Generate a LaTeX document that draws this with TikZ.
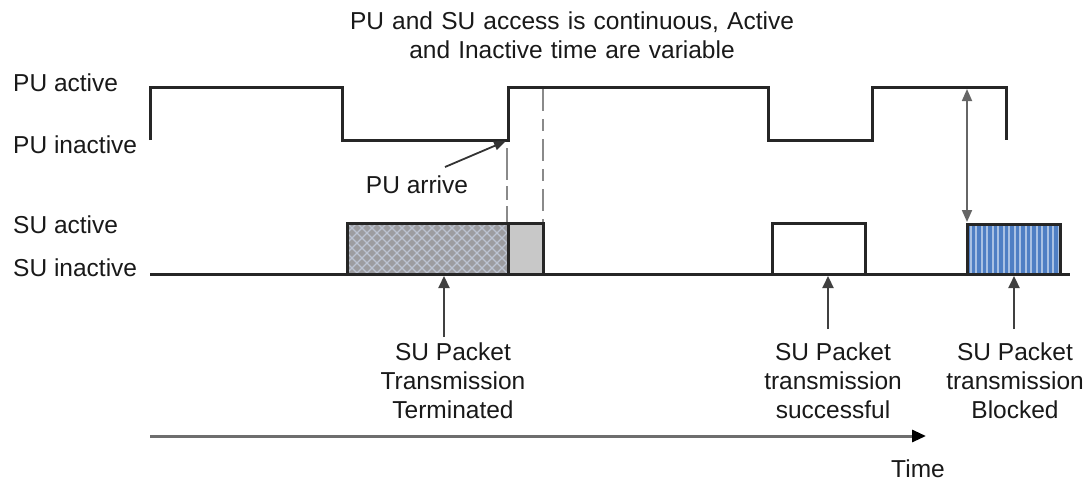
\documentclass[tikz,border=0pt]{standalone}
\usepackage{fontspec}
\setmainfont{Liberation Sans}
\usetikzlibrary{arrows.meta}
\definecolor{wavec}{HTML}{262626}
\definecolor{hatchbg}{HTML}{9C9CA0}
\definecolor{hatchln}{HTML}{BCC3D2}
\definecolor{boxgray}{HTML}{C8C8C8}
\definecolor{blueA}{HTML}{4F7FC4}
\definecolor{blueB}{HTML}{A9C1E3}
\definecolor{dashc}{HTML}{8A8A8A}
\definecolor{timec}{HTML}{6E6E6E}
\begin{document}
\begin{tikzpicture}[x=1pt,y=-1pt,
  wave/.style={draw=wavec,line width=3pt,line join=miter},
  lbl/.style={font=\fontsize{24.5}{29}\selectfont,inner sep=0pt,align=center,text=black!90},
  ptr/.style={draw=black!75,line width=2.2pt,-{Triangle[length=12pt,width=11pt]}},
  dashA/.style={draw=dashc,line width=2.2pt,dash pattern=on 32pt off 6pt on 14pt off 6pt},
  dashB/.style={draw=dashc,line width=2.2pt,dash pattern=on 22pt off 8pt on 12pt off 8pt}]
\useasboundingbox (0,0) rectangle (1091,483);

% title
\node[lbl,text width=600pt] (title) at (572,35) {PU and SU access is continuous, Active\\and Inactive time are variable};

% left labels
\node[lbl,anchor=west] (pua) at (13,83) {PU active};
\node[lbl,anchor=west] (pui) at (13,145) {PU inactive};
\node[lbl,anchor=west] (sua) at (13,225) {SU active};
\node[lbl,anchor=west] (sui) at (13,268) {SU inactive};

% hatched box
\begin{scope}
  \clip (347,223) rectangle (508,274);
  \fill[hatchbg] (347,223) rectangle (508,274);
  \foreach \i in {-60,-50,...,170} {
    \draw[hatchln,line width=1.3pt] (347+\i,223) -- ++(60,60);
    \draw[hatchln,line width=1.3pt] (347+\i,283) -- ++(60,-60);
  }
\end{scope}
\fill[boxgray] (508,223) rectangle (543,274);

% blue striped box
\fill[blueA] (967,224) rectangle (1060,274);
\foreach \i in {0,...,16} {
  \fill[blueB] (969.5+\i*5.5,224) rectangle ++(2.2,50);
}

% dashed markers
\coordinate (d1t) at (507,148);
\coordinate (d1b) at (507,223);
\coordinate (d2t) at (543,89);
\coordinate (d2b) at (543,223);
\draw[dashA] (d1t) -- (d1b);
\draw[dashB] (d2t) -- (d2b);

% PU waveform
\draw[wave] (150,140) -- (150,87) -- (342,87) -- (342,140) -- (508,140) -- (508,87)
  -- (768,87) -- (768,140) -- (872,140) -- (872,87) -- (1006,87) -- (1006,140);

% SU baseline and boxes
\draw[wave] (150,274) -- (1070,274);
\draw[wave] (347,223) rectangle (508,274);
\draw[wave] (508,223) rectangle (543,274);
\draw[wave] (772,274) -- (772,223) -- (865,223) -- (865,274);
\draw[wave] (967,224) rectangle (1060,274);

% PU arrive
\node[lbl] (arr) at (417,185) {PU arrive};
\coordinate (arrs) at (445,167);
\coordinate (arre) at (506,141);
\draw[draw=black!80,line width=1.8pt,-{Triangle[length=12pt,width=9pt]}] (arrs) -- (arre);

% blocked double arrow
\coordinate (bt) at (967,89);
\coordinate (bb) at (967,222);
\draw[draw=black!60,line width=1.8pt,{Triangle[length=12pt,width=10pt]}-{Triangle[length=12pt,width=10pt]}] (bt) -- (bb);

% bottom labels
\node[lbl] (term) at (453,381) {SU Packet\\Transmission\\Terminated};
\node[lbl] (succ) at (833,381) {SU Packet\\transmission\\successful};
\node[lbl] (blk) at (1015,381) {SU Packet\\transmission\\Blocked};
\coordinate (t1s) at (444,337);
\coordinate (t1e) at (444,276);
\coordinate (t2s) at (828,329);
\coordinate (t2e) at (828,276);
\coordinate (t3s) at (1014,329);
\coordinate (t3e) at (1014,276);
\draw[ptr] (t1s) -- (t1e);
\draw[ptr] (t2s) -- (t2e);
\draw[ptr] (t3s) -- (t3e);

% time axis
\coordinate (ts) at (150,436);
\coordinate (te) at (926,436);
\draw[draw=timec,line width=3pt,-{Triangle[length=14pt,width=12pt,fill=black,color=black]}] (ts) -- (te);
\node[lbl] (time) at (918,469) {Time};
\end{tikzpicture}
\end{document}
